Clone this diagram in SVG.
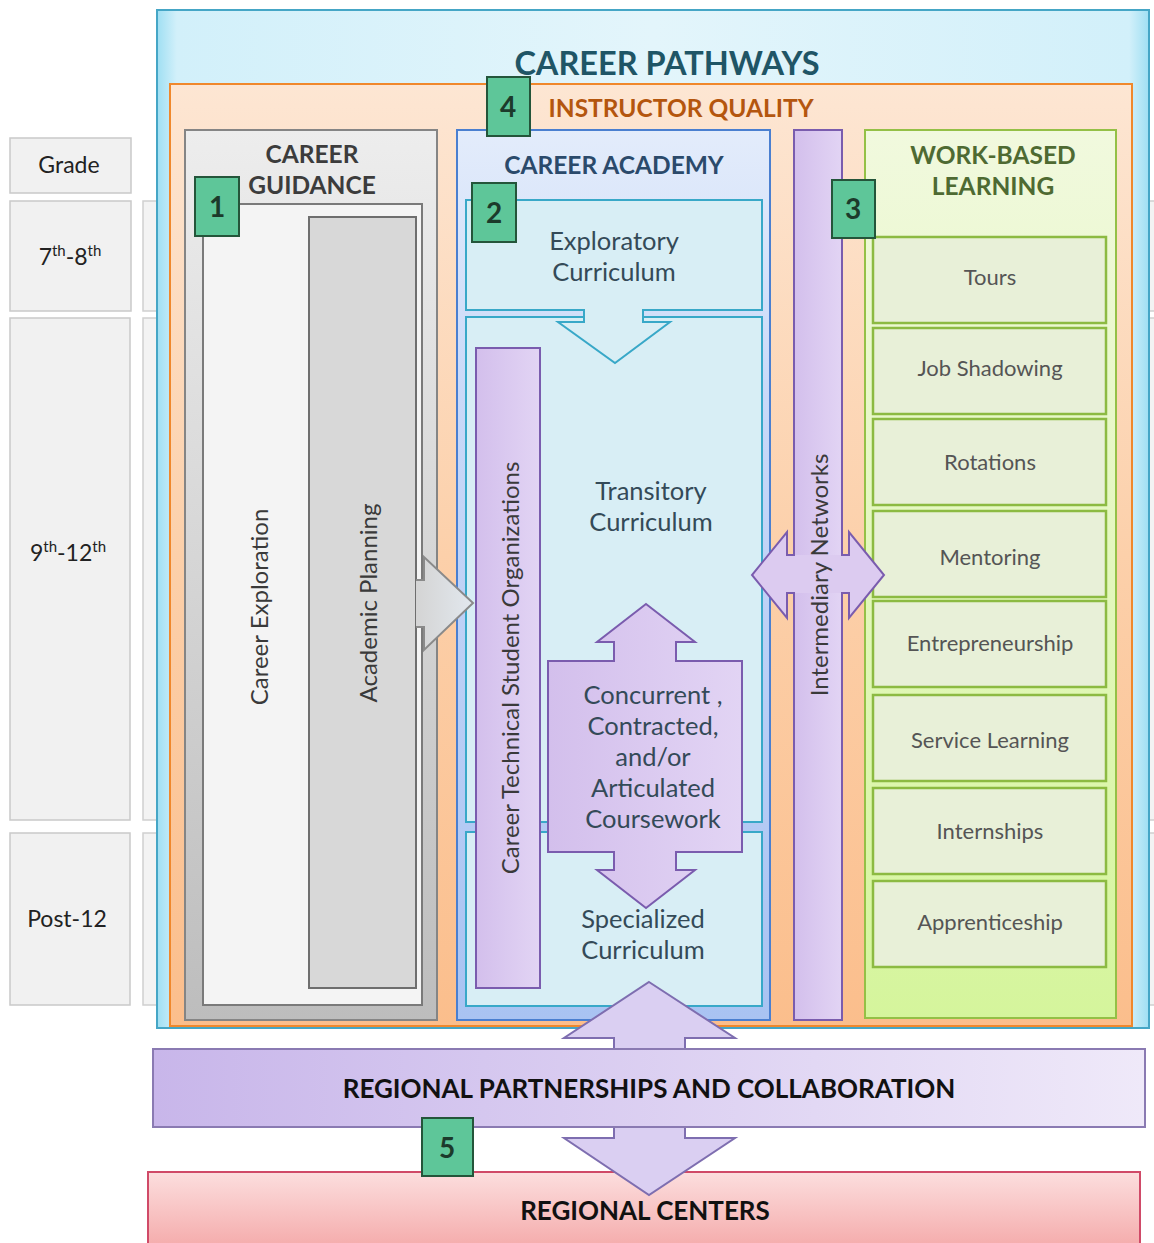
<svg xmlns="http://www.w3.org/2000/svg" width="1154" height="1243" viewBox="0 0 1154 1243">
<defs>
<linearGradient id="gCyan" x1="0" y1="0" x2="1" y2="0">
<stop offset="0" stop-color="#9fdff3"/><stop offset="0.02" stop-color="#d2f0fa"/><stop offset="0.5" stop-color="#e3f5fb"/><stop offset="0.98" stop-color="#d2f0fa"/><stop offset="1" stop-color="#9fdff3"/>
</linearGradient>
<linearGradient id="gOrange" x1="0" y1="0" x2="0" y2="1">
<stop offset="0" stop-color="#fde6d3"/><stop offset="0.5" stop-color="#fcd0aa"/><stop offset="1" stop-color="#fbbe8c"/>
</linearGradient>
<linearGradient id="gGray" x1="0" y1="0" x2="0" y2="1">
<stop offset="0" stop-color="#ededed"/><stop offset="1" stop-color="#bdbdbd"/>
</linearGradient>
<linearGradient id="gAcad" x1="0" y1="0" x2="0" y2="1">
<stop offset="0" stop-color="#e3ecfb"/><stop offset="0.3" stop-color="#c9d9f8"/><stop offset="1" stop-color="#a9c3f2"/>
</linearGradient>
<linearGradient id="gLav" x1="0" y1="0" x2="1" y2="0">
<stop offset="0" stop-color="#d3bfec"/><stop offset="1" stop-color="#e2d4f4"/>
</linearGradient>
<linearGradient id="gWbl" x1="0" y1="0" x2="0" y2="1">
<stop offset="0" stop-color="#f1f9de"/><stop offset="1" stop-color="#d5f59c"/>
</linearGradient>
<linearGradient id="gBar" x1="0" y1="0" x2="1" y2="0">
<stop offset="0" stop-color="#c8b6ea"/><stop offset="1" stop-color="#efe9f9"/>
</linearGradient>
<linearGradient id="gPink" x1="0" y1="0" x2="0" y2="1">
<stop offset="0" stop-color="#fcdede"/><stop offset="1" stop-color="#f4a8a8"/>
</linearGradient>
<linearGradient id="gArrowGray" x1="0" y1="0" x2="1" y2="0">
<stop offset="0" stop-color="#d4d4d4"/><stop offset="1" stop-color="#e2e8ee"/>
</linearGradient>
</defs>
<style>
text{font-family:Lato,"Liberation Sans",sans-serif;}
.grade{fill:#f1f1f1;stroke:#c9c9c9;stroke-width:1.5;}
.band{fill:#f3f3f3;stroke:#cfcfcf;stroke-width:1.5;}
.gtxt{font-size:23px;fill:#222;text-anchor:middle;}
.badge{fill:#5ec699;stroke:#24553a;stroke-width:2;}
.btxt{font-size:28px;font-weight:bold;fill:#1c3a2b;text-anchor:middle;}
.curr{fill:#d8eef5;stroke:#38a8c8;stroke-width:2;}
.ctxt{font-size:25.5px;fill:#344a58;text-anchor:middle;}
.lav{fill:url(#gLav);stroke:#7a5cae;stroke-width:2;}
.vtxt{font-size:24px;fill:#3a3a3a;text-anchor:middle;}
.wb{fill:#e8f0d8;stroke:#8cba42;stroke-width:2.5;}
.wtxt{font-size:22px;fill:#555;text-anchor:middle;}
.title{font-weight:bold;text-anchor:middle;}
.head{font-size:24.5px;}
</style>

<!-- grade row bands (behind) -->
<g id="bands">
<rect class="band" x="143" y="201" width="1030" height="110"/>
<rect class="band" x="143" y="318" width="1030" height="502"/>
<rect class="band" x="143" y="833" width="1030" height="172"/>
</g>

<g id="grades">
<rect class="grade" x="10" y="138" width="121" height="55"/>
<text class="gtxt" x="69" y="173">Grade</text>
<rect class="grade" x="10" y="201" width="121" height="110"/>
<text class="gtxt" x="70" y="265">7<tspan font-size="15" dy="-9">th</tspan><tspan dy="9">-8</tspan><tspan font-size="15" dy="-9">th</tspan></text>
<rect class="grade" x="10" y="318" width="120" height="502"/>
<text class="gtxt" x="68" y="561">9<tspan font-size="15" dy="-9">th</tspan><tspan dy="9">-12</tspan><tspan font-size="15" dy="-9">th</tspan></text>
<rect class="grade" x="10" y="833" width="120" height="172"/>
<text class="gtxt" x="67" y="927">Post-12</text>
</g>

<g id="career-pathways">
<rect x="157" y="10" width="992" height="1018" fill="url(#gCyan)" stroke="#45a6c6" stroke-width="2"/>
<text class="title" x="667" y="75" font-size="32.5" fill="#1f5566">CAREER PATHWAYS</text>
</g>

<g id="instructor-quality">
<rect x="170" y="84" width="962" height="942" fill="url(#gOrange)" stroke="#f0882c" stroke-width="2"/>
<text class="title" x="681" y="117" font-size="24.5" fill="#b4560e">INSTRUCTOR QUALITY</text>
</g>

<g id="career-guidance">
<rect x="185" y="130" width="252" height="890" fill="url(#gGray)" stroke="#858585" stroke-width="2"/>
<text class="title head" x="312" y="163" fill="#3c3c3c">CAREER</text>
<text class="title head" x="312" y="194" fill="#3c3c3c">GUIDANCE</text>
<rect x="203" y="204" width="219" height="801" fill="#f4f4f4" stroke="#7a7a7a" stroke-width="2"/>
<text class="vtxt" transform="translate(268,607) rotate(-90)">Career Exploration</text>
</g>

<g id="academic-planning">
<rect x="309" y="217" width="107" height="771" fill="#d8d8d8" stroke="#6e6e6e" stroke-width="2"/>
<text class="vtxt" transform="translate(377,603) rotate(-90)">Academic Planning</text>
</g>

<g id="career-academy">
<rect x="457" y="130" width="313" height="890" fill="url(#gAcad)" stroke="#4a7fd0" stroke-width="2"/>
<text class="title head" x="614" y="174" fill="#2b4a6b">CAREER ACADEMY</text>
</g>

<g id="exploratory">
<rect class="curr" x="466" y="200" width="296" height="110"/>
<text class="ctxt" x="614" y="250">Exploratory</text>
<text class="ctxt" x="614" y="281">Curriculum</text>
</g>

<g id="transitory">
<rect class="curr" x="466" y="317" width="296" height="505"/>
<text class="ctxt" x="651" y="500">Transitory</text>
<text class="ctxt" x="651" y="531">Curriculum</text>
</g>

<g id="specialized">
<rect class="curr" x="466" y="832" width="296" height="174"/>
<text class="ctxt" x="643" y="928">Specialized</text>
<text class="ctxt" x="643" y="959">Curriculum</text>
</g>

<g id="ctso">
<rect class="lav" x="476" y="348" width="64" height="640"/>
<text class="vtxt" transform="translate(519,668) rotate(-90)">Career Technical Student Organizations</text>
</g>

<g id="intermediary">
<rect class="lav" x="794" y="130" width="48" height="890"/>
</g>

<g id="work-based-learning">
<rect x="865" y="130" width="251" height="888" fill="url(#gWbl)" stroke="#94c046" stroke-width="2"/>
<text class="title head" x="993" y="164" fill="#4e6a32">WORK-BASED</text>
<text class="title head" x="993" y="195" fill="#4e6a32">LEARNING</text>
<rect class="wb" x="873" y="237" width="233" height="86"/><text class="wtxt" x="990" y="285">Tours</text>
<rect class="wb" x="873" y="328" width="233" height="86"/><text class="wtxt" x="990" y="376">Job Shadowing</text>
<rect class="wb" x="873" y="419" width="233" height="86"/><text class="wtxt" x="990" y="470">Rotations</text>
<rect class="wb" x="873" y="511" width="233" height="86"/><text class="wtxt" x="990" y="565">Mentoring</text>
<rect class="wb" x="873" y="601" width="233" height="86"/><text class="wtxt" x="990" y="651">Entrepreneurship</text>
<rect class="wb" x="873" y="695" width="233" height="86"/><text class="wtxt" x="990" y="748">Service Learning</text>
<rect class="wb" x="873" y="788" width="233" height="86"/><text class="wtxt" x="990" y="839">Internships</text>
<rect class="wb" x="873" y="881" width="233" height="86"/><text class="wtxt" x="990" y="930">Apprenticeship</text>
</g>

<g id="regional-centers">
<rect x="148" y="1172" width="992" height="80" fill="url(#gPink)" stroke="#d04a68" stroke-width="2"/>
</g>

<g id="connectors">
<!-- gray arrow: academic planning to career academy -->
<polygon points="416,580 424,580 424,557 473,603 424,650 424,627 416,627" fill="url(#gArrowGray)"/>
<polyline points="416,580 424,580 424,557 473,603 424,650 424,627 416,627" fill="none" stroke="#8a8a8a" stroke-width="2"/>
<!-- exploratory to transitory -->
<rect x="585" y="306" width="57" height="14" fill="#d8eef5"/>
<polyline points="584,309 584,322 558,322 615,363 670,322 643,322 643,309" fill="none" stroke="#38a8c8" stroke-width="2"/>
<!-- concurrent double arrow -->
<polygon points="646,604 695,642 676,642 676,661 742,661 742,852 676,852 676,870 695,870 646,908 597,870 614,870 614,852 548,852 548,661 614,661 614,642 597,642" fill="url(#gLav)" stroke="#7a5cae" stroke-width="2"/>
<!-- intermediary double arrow -->
<polygon points="752,575 787,532 787,555 849,555 849,532 884,575 849,618 849,593 787,593 787,618" fill="#dccbf0"/>
<path d="M795,555 H787 V532 L752,575 L787,618 V593 H795 M841,555 H849 V532 L884,575 L849,618 V593 H841" fill="none" stroke="#7a5cae" stroke-width="2"/>
<!-- regional double arrow -->
<polygon points="649,982 735,1038 685,1038 685,1138 735,1138 649,1195 564,1138 614,1138 614,1038 564,1038" fill="#dacff2" stroke="#7e6eb0" stroke-width="2"/>
</g>

<g id="concurrent-text">
<text class="ctxt" x="653" y="704" fill="#383838">Concurrent ,</text>
<text class="ctxt" x="653" y="735" fill="#383838">Contracted,</text>
<text class="ctxt" x="653" y="766" fill="#383838">and/or</text>
<text class="ctxt" x="653" y="797" fill="#383838">Articulated</text>
<text class="ctxt" x="653" y="828" fill="#383838">Coursework</text>
</g>

<g id="intermediary-text">
<text class="vtxt" transform="translate(828,575) rotate(-90)">Intermediary  Networks</text>
</g>

<g id="regional-partnerships">
<rect x="153" y="1049" width="992" height="78" fill="url(#gBar)" stroke="#8a7ab2" stroke-width="2"/>
<text class="title" x="649" y="1098" font-size="26" fill="#111">REGIONAL PARTNERSHIPS AND COLLABORATION</text>
</g>

<g id="regional-centers-label">
<text class="title" x="645" y="1220" font-size="26" fill="#111">REGIONAL CENTERS</text>
</g>

<g id="badges">
<rect class="badge" x="195" y="177" width="44" height="59"/><text class="btxt" x="217" y="217">1</text>
<rect class="badge" x="472" y="183" width="44" height="59"/><text class="btxt" x="494" y="223">2</text>
<rect class="badge" x="832" y="180" width="43" height="58"/><text class="btxt" x="853" y="219">3</text>
<rect class="badge" x="487" y="77" width="43" height="59"/><text class="btxt" x="508" y="117">4</text>
<rect class="badge" x="422" y="1118" width="51" height="58"/><text class="btxt" x="447" y="1158">5</text>
</g>
</svg>
